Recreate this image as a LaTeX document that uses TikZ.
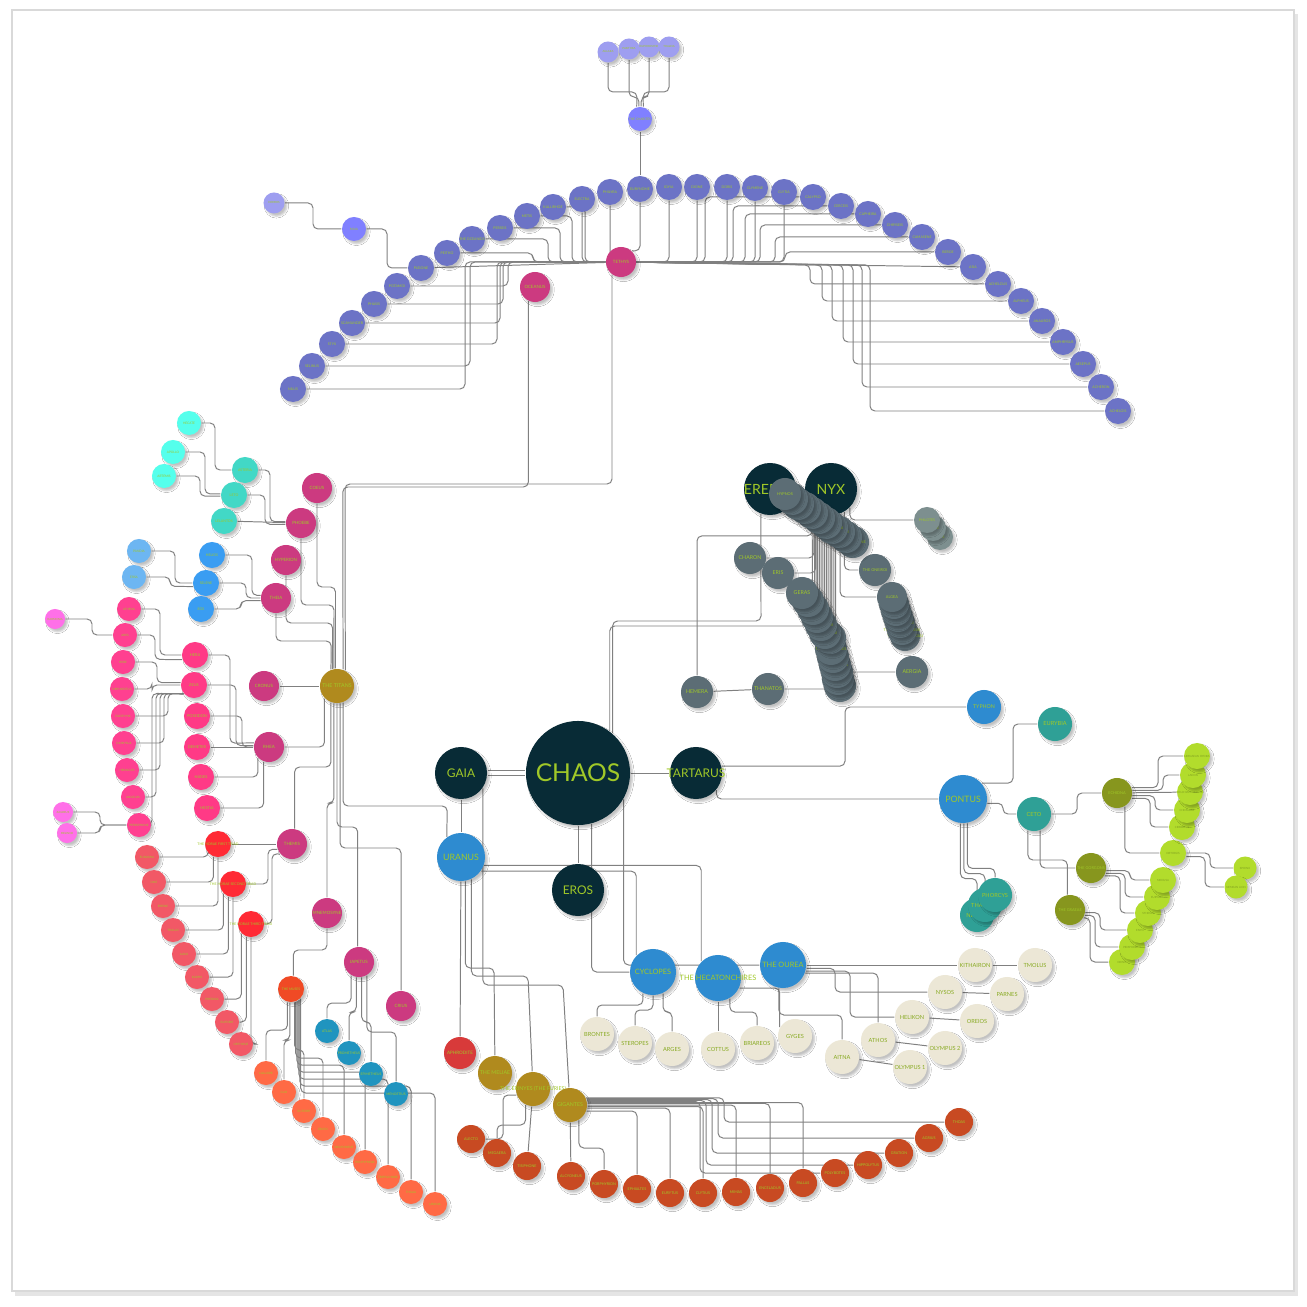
\documentclass[tikz,border=0pt]{standalone}
\usepackage{fontspec}
\setmainfont{Lato}
\usetikzlibrary{shadows.blur, backgrounds, calc}

\definecolor{cPrim}{RGB}{8,43,54}
\definecolor{cBlue}{RGB}{46,139,208}
\definecolor{cGold}{RGB}{176,138,30}
\definecolor{cTitan}{RGB}{204,58,128}
\definecolor{cOcean}{RGB}{108,115,198}
\definecolor{cViolet}{RGB}{128,128,255}
\definecolor{cLilac}{RGB}{158,158,240}
\definecolor{cTeal}{RGB}{66,216,198}
\definecolor{cCyan}{RGB}{85,255,236}
\definecolor{cSun}{RGB}{58,157,242}
\definecolor{cSky}{RGB}{109,182,242}
\definecolor{cGod}{RGB}{255,58,134}
\definecolor{cKid}{RGB}{255,64,144}
\definecolor{cRose}{RGB}{255,112,232}
\definecolor{cHora}{RGB}{255,42,53}
\definecolor{cSeason}{RGB}{242,88,102}
\definecolor{cMuses}{RGB}{240,74,37}
\definecolor{cMuse}{RGB}{255,106,69}
\definecolor{cIapet}{RGB}{32,148,191}
\definecolor{cNight}{RGB}{92,109,117}
\definecolor{cMist}{RGB}{125,143,143}
\definecolor{cSea}{RGB}{47,160,150}
\definecolor{cOlive}{RGB}{135,150,30}
\definecolor{cLime}{RGB}{178,220,44}
\definecolor{cStone}{RGB}{236,231,214}
\definecolor{cRed}{RGB}{216,58,58}
\definecolor{cGiant}{RGB}{200,74,34}
\definecolor{lbl}{RGB}{160,200,40}
\definecolor{cLink}{RGB}{128,128,128}

\newcommand{\nlab}[1]{\makebox[0pt]{#1}}

\begin{document}
\begin{tikzpicture}[x=0.01cm, y=-0.01cm,
    ball/.style={circle, inner sep=0pt, text=lbl, blur shadow={shadow xshift=.7pt, shadow yshift=-.8pt, shadow blur radius=.5pt, shadow blur steps=4, shadow opacity=24}},
    fsz/.style={font=\fontsize{#1}{#1}\selectfont},
    primn/.style={ball, fill=cPrim, minimum size=5.2mm, fsz=3.4},
    bluen/.style={ball, fill=cBlue, minimum size=4.6mm, fsz=2.1},
    goldn/.style={ball, fill=cGold, minimum size=3.4mm, fsz=1.5},
    titann/.style={ball, fill=cTitan, minimum size=3mm, fsz=1.25},
    ocen/.style={ball, fill=cOcean, minimum size=2.6mm, fsz=1},
    violn/.style={ball, fill=cViolet, minimum size=2.4mm, fsz=0.9},
    lilacn/.style={ball, fill=cLilac, minimum size=2.1mm, fsz=0.8},
    cyann/.style={ball, fill=cCyan, minimum size=2.4mm, fsz=0.9},
    tealn/.style={ball, fill=cTeal, minimum size=2.6mm, fsz=1},
    sunn/.style={ball, fill=cSun, minimum size=2.6mm, fsz=1},
    skyn/.style={ball, fill=cSky, minimum size=2.4mm, fsz=0.9},
    godn/.style={ball, fill=cGod, minimum size=2.6mm, fsz=1.1},
    kidn/.style={ball, fill=cKid, minimum size=2.4mm, fsz=0.85},
    rosen/.style={ball, fill=cRose, minimum size=2mm, fsz=0.8},
    horan/.style={ball, fill=cHora, minimum size=2.6mm, fsz=1},
    seasn/.style={ball, fill=cSeason, minimum size=2.4mm, fsz=0.85},
    musesn/.style={ball, fill=cMuses, minimum size=2.6mm, fsz=0.95},
    musen/.style={ball, fill=cMuse, minimum size=2.4mm, fsz=0.85},
    iapn/.style={ball, fill=cIapet, minimum size=2.4mm, fsz=0.95},
    nightn/.style={ball, fill=cNight, minimum size=3.2mm, fsz=1.5},
    mistn/.style={ball, fill=cMist, minimum size=2.6mm, fsz=1},
    sean/.style={ball, fill=cSea, minimum size=3.4mm, fsz=1.6},
    olivn/.style={ball, fill=cOlive, minimum size=3mm, fsz=1.1},
    limen/.style={ball, fill=cLime, minimum size=2.6mm, fsz=0.8, text=lbl!80!black},
    stonen/.style={ball, fill=cStone, minimum size=3.4mm, fsz=1.6, text=lbl!85!black},
    giantn/.style={ball, fill=cGiant, minimum size=2.8mm, fsz=1.05},
    link/.style={draw=cLink, line width=.28pt, rounded corners=1.4pt}
]
\useasboundingbox (0,0) rectangle (1307,1307);

% primordials
\node[primn, minimum size=10.4mm, fsz=7] (chaos) at (578,773) {\nlab{CHAOS}};
\node[primn] (gaia) at (461,773) {\nlab{GAIA}};
\node[primn] (tartarus) at (696,773) {\nlab{TARTARUS}};
\node[primn] (eros) at (578,890) {\nlab{EROS}};
\node[primn, fsz=4] (erebus) at (770,489) {\nlab{EREBUS}};
\node[primn, fsz=4] (nyx) at (831,489) {\nlab{NYX}};

\node[bluen, minimum size=4.8mm, fsz=2.5] (uranus) at (461,857) {\nlab{URANUS}};
\node[bluen, minimum size=4.8mm, fsz=2.5] (pontus) at (963,799) {\nlab{PONTUS}};
\node[bluen] (cyclopes) at (653,972) {\nlab{CYCLOPES}};
\node[bluen] (hecaton) at (718,978) {\nlab{THE HECATONCHIRES}};
\node[bluen] (ourea) at (783,965) {\nlab{THE OUREA}};
\node[bluen, minimum size=3.4mm, fsz=1.5] (typhon) at (984,707) {\nlab{TYPHON}};

\node[ball, fill=cRed, minimum size=3.2mm, fsz=1.3] (aphrodite) at (460,1053) {\nlab{APHRODITE}};
\node[goldn] (titans) at (337,686) {\nlab{THE TITANS}};
\node[goldn] (meliae) at (495,1073) {\nlab{THE MELIAE}};
\node[goldn] (erinyes) at (533,1089) {\nlab{THE ERINYES (THE FURIES)}};
\node[goldn] (gigantes) at (570,1105) {\nlab{GIGANTES}};

% titans
\node[titann] (tethys) at (621,262) {\nlab{TETHYS}};
\node[titann] (oceanus) at (535,287) {\nlab{OCEANUS}};
\node[titann] (coeus) at (317,488) {\nlab{COEUS}};
\node[titann] (phoebe) at (301,523) {\nlab{PHOEBE}};
\node[titann] (hyperion) at (286,560) {\nlab{HYPERION}};
\node[titann] (theia) at (276,598) {\nlab{THEIA}};
\node[titann] (cronus) at (264,686) {\nlab{CRONUS}};
\node[titann] (rhea) at (269,747) {\nlab{RHEA}};
\node[titann] (themis) at (292,844) {\nlab{THEMIS}};
\node[titann] (mnemosyne) at (327,913) {\nlab{MNEMOSYNE}};
\node[titann] (iapetus) at (359,962) {\nlab{IAPETUS}};
\node[titann] (crius) at (401,1006) {\nlab{CRIUS}};

% oceanids
\node[ocen] (ol1) at (293,389) {\nlab{NILUS}};
\node[ocen] (ol2) at (312,366) {\nlab{SELINUS}};
\node[ocen] (ol3) at (332,344) {\nlab{STYX}};
\node[ocen] (ol4) at (352,323) {\nlab{SCAMANDER}};
\node[ocen] (ol5) at (374,304) {\nlab{PHASIS}};
\node[ocen] (ol6) at (397,286) {\nlab{POTAMOI}};
\node[ocen] (ol7) at (421,268) {\nlab{PLEIONE}};
\node[ocen] (ol8) at (447,253) {\nlab{PEITHO}};
\node[ocen] (ol9) at (472,239) {\nlab{THE OCEANIDS}};
\node[ocen] (ol10) at (500,228) {\nlab{PERSEIS}};
\node[ocen] (ol11) at (527,216) {\nlab{METIS}};
\node[ocen] (ol12) at (553,207) {\nlab{KALLIRHOE}};
\node[ocen] (ol13) at (582,199) {\nlab{ELECTRA}};
\node[ocen] (ol14) at (610,192) {\nlab{PHILYRA}};
\node[ocen] (eurynome) at (640,189) {\nlab{EURYNOME}};
\node[ocen] (or1) at (669,187) {\nlab{IDYIA}};
\node[ocen] (or2) at (697,187) {\nlab{DIONE}};
\node[ocen] (or3) at (727,187) {\nlab{DORIS}};
\node[ocen] (or4) at (755,188) {\nlab{CLYMENE}};
\node[ocen] (or5) at (784,192) {\nlab{CLYTIA}};
\node[ocen] (or6) at (813,197) {\nlab{CALYPSO}};
\node[ocen] (or7) at (841,206) {\nlab{CERCEIS}};
\node[ocen] (or8) at (868,214) {\nlab{CAPHEIRA}};
\node[ocen] (or9) at (895,225) {\nlab{CHRYSEIS}};
\node[ocen] (or10) at (922,237) {\nlab{CAMASENE}};
\node[ocen] (or11) at (948,252) {\nlab{BEROE}};
\node[ocen] (or12) at (973,267) {\nlab{ASIA}};
\node[ocen] (or13) at (998,284) {\nlab{ACHELOUS}};
\node[ocen] (or14) at (1021,301) {\nlab{ALPHEUS}};
\node[ocen] (or15) at (1042,321) {\nlab{ANAUROS}};
\node[ocen] (or16) at (1063,342) {\nlab{AMPHRYSUS}};
\node[ocen] (or17) at (1083,364) {\nlab{AESEPUS}};
\node[ocen] (or18) at (1101,387) {\nlab{ACHERON}};
\node[ocen] (or19) at (1118,411) {\nlab{ACHELOIS}};

\node[violn] (charites) at (640,119) {\nlab{THE CHARITES}};
\node[lilacn] (aglaea) at (608,52) {\nlab{AGLAEA}};
\node[lilacn] (pasithea) at (629,49) {\nlab{PASITHEA}};
\node[lilacn] (euphrosyne) at (649,47) {\nlab{EUPHROSYNE}};
\node[lilacn] (thaleia) at (669,47) {\nlab{THALEIA}};
\node[violn] (maia) at (354,229) {\nlab{MAIA}};
\node[lilacn] (hermes) at (274,203) {\nlab{HERMES}};

% children of coeus, phoebe, hyperion, theia
\node[cyann] (hecate) at (189,423) {\nlab{HECATE}};
\node[cyann] (apollo) at (173,452) {\nlab{APOLLO}};
\node[cyann] (artemis) at (164,476) {\nlab{ARTEMIS}};
\node[tealn] (asteria) at (245,470) {\nlab{ASTERIA}};
\node[tealn] (leto) at (234,495) {\nlab{LETO}};
\node[tealn] (lelantos) at (224,521) {\nlab{LELANTOS}};
\node[sunn] (helios) at (212,555) {\nlab{HELIOS}};
\node[sunn] (selene) at (206,583) {\nlab{SELENE}};
\node[sunn] (eos) at (201,609) {\nlab{EOS}};
\node[skyn] (pandia) at (139,551) {\nlab{PANDIA}};
\node[skyn] (ersa) at (134,577) {\nlab{ERSA}};

% children of cronus and rhea
\node[godn] (hera) at (195,655) {\nlab{HERA}};
\node[godn] (zeus) at (194,685) {\nlab{ZEUS}};
\node[godn] (poseidon) at (197,716) {\nlab{POSEIDON}};
\node[godn] (demeter) at (197,747) {\nlab{DEMETER}};
\node[godn] (hades) at (201,777) {\nlab{HADES}};
\node[godn] (hestia) at (207,808) {\nlab{HESTIA}};
\node[kidn] (athena) at (129,609) {\nlab{ATHENA}};
\node[kidn] (ares) at (125,635) {\nlab{ARES}};
\node[kidn] (hebe) at (123,662) {\nlab{HEBE}};
\node[kidn] (hephaestus) at (122,689) {\nlab{HEPHAESTUS}};
\node[kidn] (eileithyia) at (123,716) {\nlab{EILEITHYIA}};
\node[kidn] (dionysus) at (124,743) {\nlab{DIONYSUS}};
\node[kidn] (heracles) at (127,770) {\nlab{HERACLES}};
\node[kidn] (angelos) at (133,797) {\nlab{ANGELOS}};
\node[kidn] (persephone) at (139,825) {\nlab{PERSEPHONE}};
\node[rosen] (harmonia) at (55,619) {\nlab{HARMONIA}};
\node[rosen] (zagreus) at (63,812) {\nlab{ZAGREUS}};
\node[rosen] (melinoe) at (67,833) {\nlab{MELINOE}};

% themis, mnemosyne, iapetus
\node[horan] (hora1) at (218,844) {\nlab{THE HORAE FIRST TRIAD}};
\node[horan] (hora2) at (233,884) {\nlab{THE HORAE SECOND TRIAD}};
\node[horan] (hora3) at (251,924) {\nlab{THE HORAE THIRD TRIAD}};
\node[seasn] (eunomia) at (147,857) {\nlab{EUNOMIA}};
\node[seasn] (dike) at (154,882) {\nlab{DIKE}};
\node[seasn] (eirene) at (163,906) {\nlab{EIRENE}};
\node[seasn] (thallo) at (173,930) {\nlab{THALLO}};
\node[seasn] (auxo) at (184,954) {\nlab{AUXO}};
\node[seasn] (karpo) at (197,977) {\nlab{KARPO}};
\node[seasn] (pherusa) at (212,999) {\nlab{PHERUSA}};
\node[seasn] (euporie) at (227,1022) {\nlab{EUPORIE}};
\node[seasn] (orthosie) at (241,1044) {\nlab{ORTHOSIE}};
\node[musesn] (muses) at (291,989) {\nlab{THE MUSES}};
\node[musen] (calliope) at (266,1073) {\nlab{CALLIOPE}};
\node[musen] (clio) at (284,1092) {\nlab{CLIO}};
\node[musen] (euterpe) at (304,1111) {\nlab{EUTERPE}};
\node[musen] (erato) at (323,1129) {\nlab{ERATO}};
\node[musen] (melpomene) at (344,1147) {\nlab{MELPOMENE}};
\node[musen] (polyhymnia) at (365,1162) {\nlab{POLYHYMNIA}};
\node[musen] (terpsichore) at (388,1177) {\nlab{TERPSICHORE}};
\node[musen] (thalia) at (411,1192) {\nlab{THALIA}};
\node[musen] (urania) at (435,1204) {\nlab{URANIA}};
\node[iapn] (atlas) at (327,1031) {\nlab{ATLAS}};
\node[iapn] (prometheus) at (349,1053) {\nlab{PROMETHEUS}};
\node[iapn] (epimetheus) at (371,1074) {\nlab{EPIMETHEUS}};
\node[iapn] (menoetius) at (396,1094) {\nlab{MENOETIUS}};

% children of nyx and erebus
\node[nightn] (hemera) at (697,692) {\nlab{HEMERA}};
\node[nightn] (thanatos) at (768,689) {\nlab{THANATOS}};
\node[nightn] (aergia) at (912,672) {\nlab{AERGIA}};
\node[nightn, fsz=1.1] (oneiroi) at (875,570) {\nlab{THE ONEIROI}};
\node[mistn] (nD3) at (940,537) {\nlab{ELPIS}};
\node[mistn] (nD2) at (933,528) {\nlab{PHEME}};
\node[mistn] (philotes) at (927,520) {\nlab{PHILOTES}};
\node[nightn, minimum size=3mm, fsz=1.1] (nC7) at (905,636) {\nlab{THE AMPHILLOGIAI}};
\node[nightn, minimum size=3mm, fsz=1.1] (nC6) at (902,630) {\nlab{THE ANDROKTASIAI}};
\node[nightn, minimum size=3mm, fsz=1.1] (nC5) at (900,623) {\nlab{THE HYSMINAI}};
\node[nightn, minimum size=3mm, fsz=1.1] (nC4) at (898,617) {\nlab{ANIA}};
\node[nightn, minimum size=3mm, fsz=1.1] (nC3) at (896,611) {\nlab{ACHOS}};
\node[nightn, minimum size=3mm, fsz=1.1] (nC2) at (894,604) {\nlab{LUPE}};
\node[nightn, minimum size=3mm, fsz=1.1] (algea) at (892,597) {\nlab{ALGEA}};
\node[nightn] (charon) at (750,558) {\nlab{CHARON}};
\node[nightn] (eris) at (778,573) {\nlab{ERIS}};
\node[nightn, fsz=1.1] (nB13) at (840,686) {\nlab{HORKOS}};
\node[nightn, fsz=1.1] (nB12) at (838,679) {\nlab{ATE}};
\node[nightn, fsz=1.1] (nB11) at (837,672) {\nlab{DYSNOMIA}};
\node[nightn, fsz=1.1] (nB10) at (835,665) {\nlab{THE PSEUDEA}};
\node[nightn, fsz=1.1] (nB9) at (833,657) {\nlab{THE NEIKEA}};
\node[nightn, fsz=1.1] (nB8) at (831,649) {\nlab{THE HESPERIDES}};
\node[nightn, fsz=1.1] (nB7) at (830,638) {\nlab{THE KERES}};
\node[nightn, fsz=1.1] (nB6) at (825,633) {\nlab{THE MAKHAI}};
\node[nightn, fsz=1.1] (nB5) at (821,625) {\nlab{THE PHONOI}};
\node[nightn, fsz=1.1] (nB4) at (817,617) {\nlab{LIMOS}};
\node[nightn, fsz=1.1] (nB3) at (813,609) {\nlab{LETHE}};
\node[nightn, fsz=1.1] (nB2) at (808,601) {\nlab{PONOS}};
\node[nightn] (geras) at (802,593) {\nlab{GERAS}};
\node[nightn, fsz=1.1] (nA11) at (853,542) {\nlab{SOPHROSYNE}};
\node[nightn, fsz=1.1] (nA10) at (846,537) {\nlab{LYSSA}};
\node[nightn, fsz=1.1] (nA9) at (839,532) {\nlab{EPIPHRON}};
\node[nightn, fsz=1.1] (nA8) at (832,528) {\nlab{THE MOIRAI}};
\node[nightn, fsz=1.1] (nA7) at (826,523) {\nlab{KER}};
\node[nightn, fsz=1.1] (nA6) at (819,518) {\nlab{NEMESIS}};
\node[nightn, fsz=1.1] (nA5) at (812,513) {\nlab{APATE}};
\node[nightn, fsz=1.1] (nA4) at (805,508) {\nlab{OIZYS}};
\node[nightn, fsz=1.1] (nA3) at (798,504) {\nlab{MOROS}};
\node[nightn, fsz=1.1] (nA2) at (792,499) {\nlab{MOMUS}};
\node[nightn, fsz=1.1] (hypnos) at (785,494) {\nlab{HYPNOS}};

% pontus line
\node[sean] (eurybia) at (1055,724) {\nlab{EURYBIA}};
\node[sean] (ceto) at (1034,814) {\nlab{CETO}};
\node[sean] (nereus) at (977,915) {\nlab{NEREUS}};
\node[sean] (thaumas) at (985,905) {\nlab{THAUMAS}};
\node[sean] (phorcys) at (995,895) {\nlab{PHORCYS}};
\node[olivn] (echidna) at (1117,793) {\nlab{ECHIDNA}};
\node[olivn] (gorgons) at (1091,868) {\nlab{THE GORGONS}};
\node[olivn] (graeae) at (1070,910) {\nlab{THE GRAEAE}};
\node[limen] (deino) at (1122,962) {\nlab{DEINO}};
\node[limen] (pemphredo) at (1132,947) {\nlab{PEMPHREDO}};
\node[limen] (enyo) at (1140,930) {\nlab{ENYO}};
\node[limen] (stheno) at (1148,913) {\nlab{STHENO}};
\node[limen] (euryale) at (1157,897) {\nlab{EURYALE}};
\node[limen] (medusa) at (1163,880) {\nlab{MEDUSA}};
\node[limen] (orthrus) at (1173,853) {\nlab{ORTHRUS}};
\node[limen] (cerberus) at (1182,827) {\nlab{CERBERUS}};
\node[limen] (chimaera) at (1187,810) {\nlab{CHIMAERA}};
\node[limen] (colchian) at (1190,792) {\nlab{COLCHIAN DRAGON}};
\node[limen] (ladon) at (1193,775) {\nlab{LADON}};
\node[limen] (hydra) at (1197,756) {\nlab{LERNAEAN HYDRA}};
\node[limen, minimum size=2.3mm] (sphinx) at (1245,868) {\nlab{SPHINX}};
\node[limen, minimum size=2.3mm] (nemean) at (1236,887) {\nlab{NEMEAN LION}};

% cyclopes, hecatonchires, ourea
\node[stonen] (brontes) at (597,1034) {\nlab{BRONTES}};
\node[stonen] (steropes) at (635,1043) {\nlab{STEROPES}};
\node[stonen] (arges) at (672,1049) {\nlab{ARGES}};
\node[stonen] (cottus) at (718,1049) {\nlab{COTTUS}};
\node[stonen] (briareos) at (757,1043) {\nlab{BRIAREOS}};
\node[stonen] (gyges) at (795,1036) {\nlab{GYGES}};
\node[stonen] (aitna) at (842,1057) {\nlab{AITNA}};
\node[stonen] (athos) at (878,1040) {\nlab{ATHOS}};
\node[stonen] (olympus1) at (910,1067) {\nlab{OLYMPUS 1}};
\node[stonen] (olympus2) at (945,1048) {\nlab{OLYMPUS 2}};
\node[stonen] (helikon) at (912,1017) {\nlab{HELIKON}};
\node[stonen] (oreios) at (977,1021) {\nlab{OREIOS}};
\node[stonen] (nysos) at (945,992) {\nlab{NYSOS}};
\node[stonen] (parnes) at (1007,994) {\nlab{PARNES}};
\node[stonen] (kithairon) at (975,965) {\nlab{KITHAIRON}};
\node[stonen] (tmolus) at (1035,965) {\nlab{TMOLUS}};

% erinyes and gigantes
\node[giantn] (alecto) at (471,1139) {\nlab{ALECTO}};
\node[giantn] (megaera) at (497,1153) {\nlab{MEGAERA}};
\node[giantn] (tisiphone) at (527,1166) {\nlab{TISIPHONE}};
\node[giantn] (alcyoneus) at (571,1176) {\nlab{ALCYONEUS}};
\node[giantn] (porphyrion) at (604,1184) {\nlab{PORPHYRION}};
\node[giantn] (ephialtes) at (637,1189) {\nlab{EPHIALTES}};
\node[giantn] (eurytus) at (670,1193) {\nlab{EURYTUS}};
\node[giantn] (clytius) at (703,1193) {\nlab{CLYTIUS}};
\node[giantn] (mimas) at (736,1192) {\nlab{MIMAS}};
\node[giantn] (enceladus) at (770,1188) {\nlab{ENCELADUS}};
\node[giantn] (pallas) at (803,1183) {\nlab{PALLAS}};
\node[giantn] (polybotes) at (835,1173) {\nlab{POLYBOTES}};
\node[giantn] (hippolytus) at (868,1165) {\nlab{HIPPOLYTUS}};
\node[giantn] (gration) at (899,1153) {\nlab{GRATION}};
\node[giantn] (agrius) at (929,1138) {\nlab{AGRIUS}};
\node[giantn] (thoas) at (959,1122) {\nlab{THOAS}};

\begin{pgfonlayer}{background}
% page
\fill[black!10] (15,14) rectangle (1298,1296);
\filldraw[fill=white, draw=black!15, line width=.4pt] (12,10) rectangle (1294,1291);

% chaos and the first gods
\draw[link, double=white, double distance=1.3pt] (gaia) -- (chaos);
\draw[link] (chaos) -- (tartarus);
\draw[link] (chaos) -- (eros);
\draw[link] (chaos.-75) |- (cyclopes);
\draw[link] (chaos.-30) |- (ourea);
\draw[link] (chaos.49) |- (761,621) -- (erebus.250);
\draw[link] (chaos.53) |- (812.6,626) -- (nyx.-135);
\draw[link] (gaia) -- (uranus);
\draw[link] (gaia.-35) |- (563,985) -- (gigantes);
\draw[link] (uranus) -- (aphrodite);
\draw[link] (uranus.-80) |- (494,968) -- (meliae);
\draw[link] (uranus.-65) |- (528,976) -- (erinyes);
\draw[link] (uranus.-35) -| (cyclopes.135);
\draw[link] (uranus.-20) -| (hecaton.north west);
\draw[link] (tartarus.15) -| (845,707) -- (typhon);
\draw[link] (tartarus.-40) |- (pontus);

% titans
\draw[link] (cronus) -- (titans);
\draw[link] (coeus) |- (335.5,587) -- (titans.95);
\draw[link] (phoebe) |- (334,605) -- (titans.100);
\draw[link] (hyperion) |- (332.6,623) -- (titans.105);
\draw[link] (theia) |- (331.2,641) -- (titans.110);
\draw[link] (oceanus.-115) |- (342.8,487) -- (titans.70);
\draw[link] (tethys.-125) |- (345,484) -- (titans.62);
\draw[link] (titans.-135) |- (rhea);
\draw[link] (titans.-110) |- (294.6,767) -- (themis.80);
\draw[link] (titans.-100) |- (327,803) -- (mnemosyne);
\draw[link] (titans.-90) |- (357.7,827) -- (iapetus.95);
\draw[link] (titans.-80) |- (401,848) -- (crius);
\draw[link] (titans.-70) |- (447.2,806) -- (uranus.125);

% tethys and the oceanids
\foreach \n/\x in {ol1/465, ol2/470, ol3/497, ol4/500, ol5/503, ol6/508, ol8/533, ol9/548, ol10/560, ol11/572, ol12/585, or6/705, or7/733, or8/745, or9/760, or10/775, or11/785}
  \draw[link] (\n) -| (\x,262) -- (tethys);
\foreach \n/\x in {or13/810, or14/822, or15/832, or16/843, or17/853, or18/862, or19/870}
  \draw[link] (\n) -| (\x,265) -- (tethys);
\foreach \n in {ol13, ol14, or1, or2, or3, or4, or5}
  \draw[link] (\n) |- (tethys);
\draw[link] (ol7) -- (tethys);
\draw[link] (or12) -- (tethys);
\draw[link] (eurynome) |- (tethys.45);
\draw[link] (charites) -- (eurynome);
\draw[link] (aglaea) |- (636.9,92) -- (charites.105);
\draw[link] (pasithea) |- (639,97) -- (charites.95);
\draw[link] (euphrosyne) |- (641,97) -- (charites.85);
\draw[link] (thaleia) |- (643.1,92) -- (charites.75);
\draw[link] (hermes) -| (313,229) -- (maia);
\draw[link] (maia) -| (387,268) -- (ol7);

% phoebe, theia
\draw[link] (asteria) -| (270,521.7) -- (phoebe.175);
\draw[link] (leto) -| (265,524.3) -- (phoebe.-175);
\draw[link] (lelantos) -- (phoebe);
\draw[link] (hecate) -| (215,470) -- (asteria);
\draw[link] (apollo) -| (205,493.9) -- (leto.175);
\draw[link] (artemis) -| (200,496.1) -- (leto.-175);
\draw[link] (helios) -| (252,595.4) -- (theia.170);
\draw[link] (selene) -| (246,598) -- (theia);
\draw[link] (eos) -| (241,600.6) -- (theia.-170);
\draw[link] (pandia) -| (175,583) -- (selene);
\draw[link] (ersa) -| (170,586.4) -- (selene.-165);

% rhea
\draw[link] (hera) -| (230,743.1) -- (rhea.165);
\draw[link] (zeus) -| (236,745.7) -- (rhea.175);
\draw[link] (poseidon) -| (242,747) -- (rhea);
\draw[link] (demeter) -- (rhea);
\draw[link] (hades) -| (rhea.-135);
\draw[link] (hestia) -| (rhea.-110);
\draw[link] (athena) -| (160,655) -- (hera);
\draw[link] (ares) -| (155,659.4) -- (hera.-160);
\draw[link] (hebe) -| (157,682.7) -- (zeus.170);
\draw[link] (hephaestus) -| (152,685) -- (zeus);
\draw[link] (eileithyia) -| (168,693.4) -- (zeus.-140);
\draw[link] (dionysus) -| (164,693.4) -- (zeus.-140);
\draw[link] (heracles) -| (160,693.4) -- (zeus.-140);
\draw[link] (angelos) -| (156,693.4) -- (zeus.-140);
\draw[link] (persephone) -| (152,693.4) -- (zeus.-140);
\draw[link] (harmonia) -| (92,635) -- (ares);
\draw[link] (zagreus) -| (100,825) -- (persephone);
\draw[link] (melinoe) -| (100,825) -- (persephone);

% themis, mnemosyne, iapetus
\draw[link] (hora1) -- (themis);
\draw[link] (hora2) -| (268,849.1) -- (themis.-160);
\draw[link] (hora3) -| (272,853.6) -- (themis.-140);
\draw[link] (eunomia) -| (hora1.-135);
\draw[link] (dike) -| (hora1.-110);
\draw[link] (eirene) -| (hora1);
\draw[link] (thallo) -| (hora2.-135);
\draw[link] (auxo) -| (hora2.-110);
\draw[link] (karpo) -| (hora2);
\draw[link] (pherusa) -| (hora3.-135);
\draw[link] (euporie) -| (hora3.-110);
\draw[link] (orthosie) -| (hora3);
\draw[link] (mnemosyne) |- (293.3,950) -- (muses.80);
\draw[link] (muses.-105) |- (266,1030) -- (calliope);
\draw[link] (muses.-95) |- (284,1040) -- (clio);
\draw[link] (muses.-75) |- (304,1050) -- (euterpe);
\draw[link] (muses.-70) |- (323,1058) -- (erato);
\draw[link] (muses.-65) |- (344,1065) -- (melpomene);
\draw[link] (muses.-60) |- (365,1072) -- (polyhymnia);
\draw[link] (muses.-55) |- (388,1079) -- (terpsichore);
\draw[link] (muses.-50) |- (411,1086) -- (thalia);
\draw[link] (muses.-45) |- (435,1093) -- (urania);
\draw[link] (iapetus.-120) |- (327,1003) -- (atlas);
\draw[link] (iapetus.-100) |- (349,1012) -- (prometheus);
\draw[link] (iapetus.-80) |- (371,1022) -- (epimetheus);
\draw[link] (iapetus.-60) |- (396,1032) -- (menoetius);

% nyx and erebus
\draw[link] (hemera) |- ($(nyx.-135)+(0,28)$) -- (nyx.-135);
\draw[link] (hemera) -- (thanatos);
\draw[link] (thanatos) -| (nyx);
\draw[link] (charon) -| (nyx.-130);
\draw[link] (eris) -| (nyx.-125);
\draw[link] (geras) -| (nyx.-120);
\draw[link] (oneiroi) -| (nyx.-60);
\draw[link] (philotes) -| (nyx.-45);
\draw[link] (algea) -| (nyx.-70);
\draw[link] (aergia) -| (nyx.-80);
\foreach \k/\a in {2/-128, 3/-124, 4/-120, 5/-116, 6/-112, 7/-108, 8/-104, 9/-100, 10/-96, 11/-92, 12/-88, 13/-84}
  \draw[link] (nB\k) -| (nyx.\a);

% pontus
\draw[link] (pontus.40) -| (1013,724) -- (eurybia);
\draw[link] (pontus.-10) -| (1003,814) -- (ceto);
\draw[link] (pontus.-80) -- ++(0,45) -| (phorcys);
\draw[link] (pontus.-88) -- ++(0,50) -| (thaumas);
\draw[link] (pontus.-96) -- ++(0,55) -| (nereus);
\draw[link] (ceto) -| (1077,793) -- (echidna);
\draw[link] (ceto.-70) |- (gorgons);
\draw[link] (ceto.-110) |- (1067.4,860) -- (graeae.100);
\draw[link] (echidna.20) -| (1158,756) -- (hydra);
\draw[link] (echidna.10) -| (1163,775) -- (ladon);
\draw[link] (echidna) -- (colchian);
\draw[link] (echidna.-10) -| (1155,810) -- (chimaera);
\draw[link] (echidna.-20) -| (1150,827) -- (cerberus);
\draw[link] (echidna.-60) |- (orthrus);
\draw[link] (orthrus) -| (1210,868) -- (sphinx);
\draw[link] (orthrus.-15) -| (1205,887) -- (nemean);
\draw[link] (gorgons.-10) -| (1130,880) -- (medusa);
\draw[link] (gorgons.-20) -| (1125,897) -- (euryale);
\draw[link] (gorgons.-30) -| (1120,913) -- (stheno);
\draw[link] (graeae.-10) -| (1100,930) -- (enyo);
\draw[link] (graeae.-20) -| (1095,947) -- (pemphredo);
\draw[link] (graeae.-30) -| (1090,962) -- (deino);

% cyclopes, hecatonchires, ourea
\draw[link] (cyclopes.-115) |- (597,1005) -- (brontes);
\draw[link] (cyclopes.-90) |- (635,1010) -- (steropes);
\draw[link] (cyclopes.-65) |- (672,1012) -- (arges);
\draw[link] (hecaton) -- (cottus);
\draw[link] (hecaton.-60) |- (757,1012) -- (briareos);
\draw[link] (hecaton.-25) -| (gyges.150);
\draw[link] (ourea) -- (kithairon);
\draw[link] (kithairon) -- (tmolus);
\draw[link] (ourea.-8) -| (835,992) -- (nysos);
\draw[link] (nysos) -- (parnes);
\draw[link] (ourea.-15) -| (850,1017) -- (helikon);
\draw[link] (helikon) -- (oreios);
\draw[link] (ourea.-20) -| (athos);
\draw[link] (athos) -- (olympus2);
\draw[link] (ourea.-100) |- (842,1015) -- (aitna);
\draw[link] (aitna) -- (olympus1);

% erinyes and gigantes
\draw[link] (erinyes.-160) -| (503,1139) -- (alecto);
\draw[link] (erinyes.-115) |- (497,1125) -- (megaera);
\draw[link] (erinyes) -- (tisiphone);
\draw[link] (gigantes) -- (alcyoneus);
\draw[link] (gigantes.-60) |- (604,1148) -- (porphyrion);
\draw[link] (gigantes.-20) -| (ephialtes);
\draw[link] (gigantes.-10) -| (eurytus);
\draw[link] (gigantes.-5) -| (clytius);
\draw[link] (gigantes) -| (mimas);
\draw[link] (gigantes.5) -| (enceladus);
\draw[link] (gigantes.8) -| (pallas);
\draw[link] (gigantes.12) -| (700,1173) -- (polybotes);
\draw[link] (gigantes.15) -| (706,1165) -- (hippolytus);
\draw[link] (gigantes.18) -| (712,1153) -- (gration);
\draw[link] (gigantes.21) -| (718,1138) -- (agrius);
\draw[link] (gigantes.24) -| (724,1122) -- (thoas);
\end{pgfonlayer}
\end{tikzpicture}
\end{document}
